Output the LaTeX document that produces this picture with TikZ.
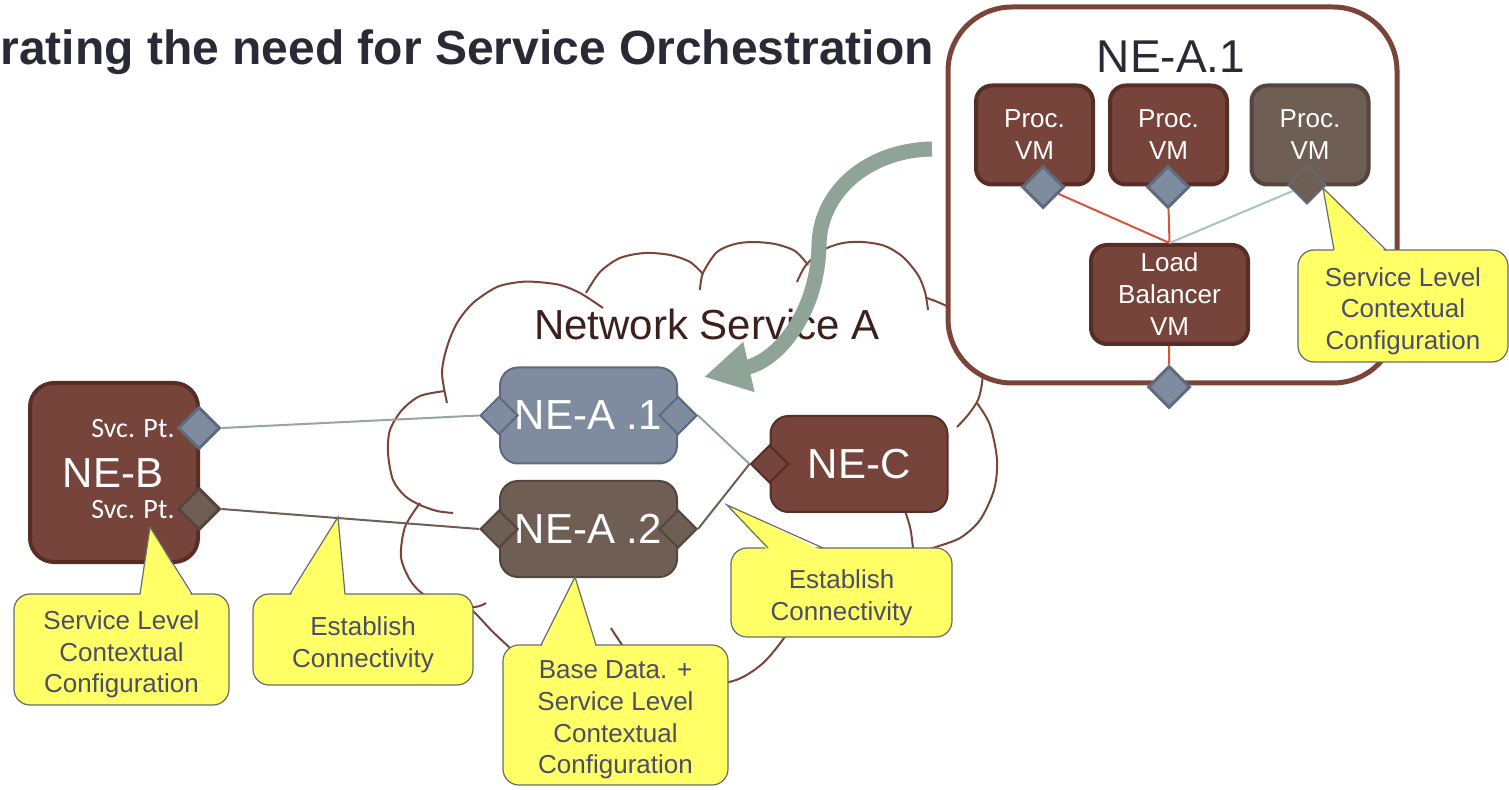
\documentclass[tikz,border=0pt]{standalone}
\usepackage{fontspec}
\setmainfont{Liberation Sans}
\newfontfamily\svcfont{Carlito}
\usepackage{xcolor}
\usepackage{tikz}
\usetikzlibrary{shapes.geometric,arrows.meta}

\definecolor{nebrown}{HTML}{76443A}
\definecolor{nebrownline}{HTML}{582D26}
\definecolor{negray}{HTML}{6E5E53}
\definecolor{negrayline}{HTML}{54463E}
\definecolor{neblue}{HTML}{7F8CA0}
\definecolor{neblueline}{HTML}{5E6B7E}
\definecolor{cloudline}{HTML}{7A4438}
\definecolor{orchgreen}{HTML}{8FA396}
\definecolor{linkgreen}{HTML}{93A79C}
\definecolor{lbred}{HTML}{D6553D}
\definecolor{lbblue}{HTML}{A8C2CB}
\definecolor{noteyellow}{HTML}{FFFF66}
\definecolor{noteline}{HTML}{6B6B6B}
\definecolor{notetext}{HTML}{4A4E6B}
\definecolor{titletext}{HTML}{2A2A36}
\definecolor{cloudtext}{HTML}{3D1F1B}

\begin{document}
\begin{tikzpicture}
    [x=0.5pt,y=-0.5pt,
    nebox/.style={rectangle,rounded corners=9pt,line width=1pt,text=white,inner sep=0pt,
        minimum width=88.5pt,minimum height=48pt,font=\fontsize{21}{25}\selectfont},
    vmbox/.style={rectangle,rounded corners=8pt,line width=2pt,draw=nebrownline,fill=nebrown,
        text=white,inner sep=0pt,align=center,font=\fontsize{13}{16}\selectfont,
        minimum width=58.5pt,minimum height=49.5pt},
    port/.style={diamond,inner sep=0pt,minimum size=20pt,line width=1.5pt},
    blueport/.style={port,fill=neblue,draw=neblueline},
    grayport/.style={port,fill=negray,draw=negrayline},
    brownport/.style={port,fill=nebrown,draw=nebrownline},
    cloudarc/.style={draw=cloudline,line width=1pt},
    link/.style={line width=1pt},
    orch/.style={draw=orchgreen,line width=7.5pt,-{Triangle[length=23pt,width=24pt]}},
    note/.style={rectangle,rounded corners=8pt,fill=noteyellow,draw=noteline,line width=0.6pt,inner sep=0pt},
    notetext/.style={text=notetext,inner sep=0pt,align=center,font=\fontsize{13}{15.8}\selectfont},
    notetip/.style={draw=noteline,line width=0.6pt}]

\useasboundingbox (0,0) rectangle (1509,790);

%title
\node[anchor=base west,inner sep=0pt,text=titletext,font=\fontsize{24}{28}\selectfont\bfseries] (title) at (0,65) {rating the need for Service Orchestration};

%draw cloud
\draw[cloudarc] plot[smooth] coordinates {(447,403) (442,373) (447,347) (457,323) (473,303) (497,287) (520,282) (537,282) (560,285) (580,293) (603,308)};
\draw[cloudarc] plot[smooth] coordinates {(586,293) (600,272) (620,258) (645,253) (670,255) (690,262) (703,274)};
\draw[cloudarc] plot[smooth] coordinates {(700,290) (703,273) (717,252) (735,244) (753,242) (775,244) (795,251) (808,265)};
\draw[cloudarc] plot[smooth] coordinates {(797,282) (806,265) (823,250) (843,243) (863,242) (885,246) (903,257) (918,275) (925,292) (928,310)};
\draw[cloudarc] plot[smooth] coordinates {(927,298) (950,308) (975,330) (983,360) (982,383) (978,400) (968,415) (957,427)};
\draw[cloudarc] plot[smooth] coordinates {(977,403) (990,425) (997,460) (994,490) (980,520) (960,538) (933,548) (920,553)};
\draw[cloudarc] plot[smooth] coordinates {(903,505) (910,527) (913,548) (914,560)};
\draw[cloudarc] plot[smooth] coordinates {(611,628) (638,664) (683,686) (733,681) (762,664) (784,638) (791,623)};
\draw[cloudarc] plot[smooth] coordinates {(460,600) (475,613) (492,631) (510,648) (525,662)};
\draw[cloudarc] plot[smooth] coordinates {(420,503) (405,527) (401,557) (410,580) (423,594) (445,606) (475,607) (486,603)};
\draw[cloudarc] plot[smooth] coordinates {(445,391) (420,396) (402,410) (390,430) (388,453) (393,480) (405,496) (420,505) (437,511) (453,513)};
\node[anchor=base,text=cloudtext,font=\fontsize{21}{25}\selectfont] (nsa) at (707,340) {Network Service A};

%NE-A.1 detail
\node[draw=cloudline,line width=2.5pt,fill=white,rounded corners=32pt,minimum width=224.5pt,minimum height=188pt] (bigbox) at (1172.5,195) {};
\node[anchor=base,text=titletext,font=\fontsize{23}{27}\selectfont] (biglabel) at (1171,73) {NE-A.1};
\node[vmbox] (vm1) at (1034.5,135) {Proc.\\VM};
\node[vmbox] (vm2) at (1168.5,135) {Proc.\\VM};
\node[vmbox,fill=negray,draw=negrayline] (vm3) at (1310,135) {Proc.\\VM};
\node[vmbox,minimum width=78.5pt] (lb) at (1169.5,294.5) {Load\\Balancer\\VM};
\node[blueport,minimum size=21pt] (vm1p) at (1043,187) {};
\node[blueport,minimum size=21pt] (vm2p) at (1168,187) {};
\node[grayport,minimum size=19pt,line width=0.8pt,draw=neblueline] (vm3p) at (1307,185) {};
\node[blueport,minimum size=21pt] (bigp) at (1169,387) {};
\draw[link,lbred] (vm1p) -- (lb.north);
\draw[link,lbred] (vm2p) -- (lb.north);
\draw[link,lbblue] (vm3p) -- (lb.north);
\draw[link,lbred] (lb) -- (bigp);

%NE-B
\node[nebox,fill=nebrown,draw=nebrownline,line width=2pt,rounded corners=12pt,minimum width=84pt,minimum height=89.5pt] (neb) at (114,472.5) {};
\node[anchor=base,text=white,inner sep=0pt,font=\fontsize{21}{25}\selectfont] (neblabel) at (113,488) {NE-B};
\node[anchor=base east,text=white,inner sep=0pt,font=\svcfont\fontsize{14}{16}\selectfont] (svc1) at (175,438) {Svc. Pt.};
\node[anchor=base east,text=white,inner sep=0pt,font=\svcfont\fontsize{14}{16}\selectfont] (svc2) at (175,518) {Svc. Pt.};
\node[blueport,minimum size=21pt] (nebp1) at (199,428) {};
\node[grayport,minimum size=21pt] (nebp2) at (199,509) {};

%network elements in the service
\node[nebox,fill=neblue,draw=neblueline] (nea1) at (588.5,415.5) {NE-A .1};
\node[nebox,fill=negray,draw=negrayline] (nea2) at (588.5,529) {NE-A .2};
\node[nebox,fill=nebrown,draw=nebrownline] (nec) at (859,464) {NE-C};
\node[blueport,minimum size=19pt,line width=1pt] (nea1w) at (nea1.west) {};
\node[blueport,minimum size=19pt,line width=1pt] (nea1e) at (nea1.east) {};
\node[grayport,minimum size=19pt,line width=1pt] (nea2w) at (nea2.west) {};
\node[grayport,minimum size=19pt,line width=1pt] (nea2e) at (nea2.east) {};
\node[brownport,minimum size=19pt,line width=1pt] (necw) at (nec.west) {};

%connectivity
\draw[link,linkgreen] (nebp1.east) -- (nea1w.west);
\draw[link,negray] (nebp2.east) -- (nea2w.west);
\draw[link,linkgreen] (nea1e.east) -- (necw.west);
\draw[link,negray] (nea2e.east) -- (necw.west);

%orchestration arrow
\coordinate (orchstart) at (932,149);
\coordinate (orchtip) at (704,377);
\draw[orch] (orchstart) .. controls (870,150) and (820,190) .. (819,245) .. controls (818,310) and (780,360) .. (orchtip);

%callouts
\node[note,minimum width=107.5pt,minimum height=55.5pt] (svcnoteb) at (121.5,649.5) {};
\fill[noteyellow] (140,597) -- (150,527) -- (192,597) -- cycle;
\draw[notetip] (140,594) -- (150,527) -- (192,594);
\node[notetext] (svcnotebtext) at ([yshift=-2.5pt]svcnoteb.center) {Service Level\\Contextual\\Configuration};

\node[note,minimum width=110pt,minimum height=45.5pt] (connote1) at (363,639.5) {};
\fill[noteyellow] (290,597) -- (338,517) -- (345,597) -- cycle;
\draw[notetip] (290,594) -- (338,517) -- (345,594);
\node[notetext] (connote1text) at ([yshift=-2.5pt]connote1.center) {Establish\\Connectivity};

\node[note,minimum width=112.5pt,minimum height=70pt] (basenote) at (615.5,715) {};
\fill[noteyellow] (541,648) -- (575,577) -- (596,648) -- cycle;
\draw[notetip] (541,645) -- (575,577) -- (596,645);
\node[notetext] (basenotetext) at ([yshift=-2.5pt]basenote.center) {Base Data. +\\Service Level\\Contextual\\Configuration};

\node[note,minimum width=110.5pt,minimum height=44.5pt] (connote2) at (841.5,592.5) {};
\fill[noteyellow] (768,551) -- (727,505) -- (823,551) -- cycle;
\draw[notetip] (768,548) -- (727,505) -- (823,548);
\node[notetext] (connote2text) at ([yshift=-2.5pt]connote2.center) {Establish\\Connectivity};

\node[note,minimum width=105pt,minimum height=56pt] (svcnotea) at (1403,306) {};
\fill[noteyellow] (1334,253) -- (1323,188) -- (1386,253) -- cycle;
\draw[notetip] (1334,250) -- (1323,188) -- (1386,250);
\node[notetext] (svcnoteatext) at ([yshift=-2.5pt]svcnotea.center) {Service Level\\Contextual\\Configuration};

\end{tikzpicture}
\end{document}
